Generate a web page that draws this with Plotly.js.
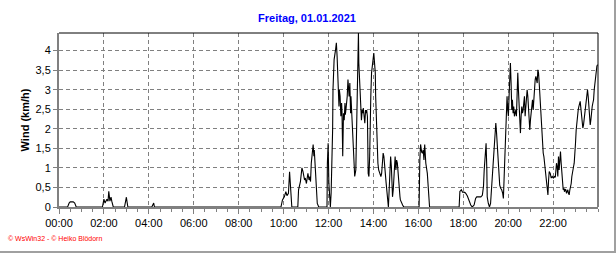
<!DOCTYPE html>
<html>
<head>
<meta charset="utf-8">
<script src="https://cdn.plot.ly/plotly-3.0.1.min.js"></script>
<style>
  html, body { margin: 0; padding: 0; background: #ffffff; }
  #chart { width: 614px; height: 251px; border-right: 2px solid #a0a0a0; border-bottom: 2px solid #a0a0a0; }
</style>
</head>
<body>
<div id="chart"></div>
<script>
// minutes after midnight
const windTime = [
  0, 23, 27, 30, 38, 42, 46,
  116, 118, 120, 123, 126, 128, 131, 133, 136, 139, 141, 143, 145,
  175, 178, 180, 182, 184,
  248, 251, 253, 255,
  593, 597, 602, 606, 609, 613, 616, 618, 620, 622,
  638, 640, 645, 649, 652, 656, 658, 661, 665, 668, 670, 672, 674, 677, 679, 681, 682, 685, 688, 690, 694,
  716, 717, 719, 721, 722.5, 725, 727, 729, 731, 732, 735, 739, 741, 743, 745, 748, 749, 751, 753, 755, 756, 758,
  760, 762, 764, 765, 767, 770, 772, 773, 775, 777, 779, 780, 782, 784, 786, 789, 790, 793, 795, 797, 798,
  800, 801, 803, 805, 806, 808, 810, 812, 813, 815, 817, 819, 821, 822, 824, 826, 828, 830, 831, 833, 835, 837,
  839, 841, 843, 845, 846, 848, 850, 852, 854, 857, 860, 862, 864, 866, 868, 870, 871, 874, 877, 880,
  884, 886, 888, 889, 891, 893, 895, 896, 898, 900, 902, 904, 905, 907, 909, 911, 912, 915, 918, 921,
  962, 964, 966, 969, 971, 973, 975, 977, 980, 984, 987, 990,
  1069, 1071, 1075, 1078, 1082, 1086, 1091, 1095, 1100, 1104, 1109, 1113, 1116, 1122, 1127, 1131, 1134, 1136,
  1138, 1141, 1143, 1144, 1147, 1150, 1153, 1156, 1159, 1162, 1165, 1167, 1169, 1171,
  1174.8, 1177.4, 1180, 1182.7, 1185.4, 1187.2, 1189, 1191.7, 1193.5, 1195.3, 1197, 1198.8, 1200.6, 1202.4,
  1204.2, 1206, 1207.8, 1209.6, 1211.4, 1213.1, 1214.9, 1216.7, 1218.5, 1220.3, 1222.1, 1223.9, 1225.7, 1227.4,
  1229.2, 1231, 1232.8, 1234.6, 1236.4, 1238.2, 1240, 1241.7, 1243.5, 1245.3, 1247.1, 1248.9, 1250.7, 1252.5,
  1254.3, 1256, 1257.8, 1259.6, 1261.4, 1263.2, 1265, 1266.8, 1268.6, 1270.4, 1272.2, 1274, 1275.7, 1277.5,
  1279.3, 1281.1, 1282.9, 1284.7, 1286.5, 1288.3, 1290, 1291.8, 1293.6, 1295.4, 1297.2, 1299, 1300.8, 1302.6,
  1304.4, 1306.2, 1308, 1309.7, 1312.4, 1315.1, 1317.8, 1320.5, 1323.2, 1326,
  1329.1, 1330.9, 1332.6, 1334.4, 1336.2, 1338, 1339.8, 1341.6, 1343.4, 1345.2, 1347, 1348.7, 1350.5, 1352.3,
  1354.1, 1355.9, 1357.7, 1359.4, 1361.2, 1363, 1364.8, 1366.6, 1368.4, 1370.1, 1371.9, 1374.6, 1376.4, 1378.1,
  1379.9, 1381.7, 1383.5, 1385.3, 1387.1, 1388.8, 1390.6, 1392.4, 1394.2, 1396, 1397.8, 1399.5, 1401.3, 1403.1,
  1404.9, 1406.7, 1408.5, 1410.3, 1412, 1413.8, 1415.6, 1417.4, 1419.2, 1421, 1422.8, 1424.5, 1426.3, 1428.1,
  1429.9, 1431.7, 1433.5, 1435.2, 1437, 1438.8
];
// km/h
const windSpeed = [
  0, 0, 0.1, 0.13, 0.13, 0.1, 0,
  0, 0.1, 0.2, 0.1, 0.15, 0.2, 0.15, 0.4, 0.15, 0.25, 0.15, 0.1, 0,
  0, 0.12, 0.25, 0.12, 0,
  0, 0.1, 0.1, 0,
  0, 0.18, 0.26, 0.39, 0.29, 0.35, 0.9, 0.6, 0.2, 0,
  0, 0.44, 0.65, 1.0, 0.9, 0.69, 0.74, 0.6, 0.86, 0.69, 0.78, 0.65, 1.12, 1.46, 1.6, 1.3, 1.46, 0.95, 0.35, 0.09, 0,
  0, 1.12, 1.63, 0.61, 0.26, 0, 0.35, 0.95, 1.97, 3.0, 3.77, 4.03, 4.2, 3.85, 3.26, 2.57, 3.0, 2.83, 2.32, 2.66, 2.45, 1.3,
  2.4, 2.22, 2.66, 2.36, 2.53, 2.83, 3.26, 3.0, 2.83, 3.17, 2.4, 2.83, 2.4, 2.05, 1.3, 1.03, 0.78, 0.95, 1.97, 3.0, 4.03,
  4.45, 3.68, 3.26, 2.83, 2.57, 2.22, 2.48, 2.4, 2.53, 2.31, 2.14, 2.48, 2.4, 2.48, 2.31, 0.86, 0.78, 1.3, 2.66, 2.83, 3.43, 3.68,
  3.85, 3.94, 3.68, 3.43, 2.83, 2.15, 1.55, 1.12, 0.95, 0.86, 0.78, 0.86, 1.12, 1.38, 1.29, 1.12, 0.95, 0.61, 0.26, 0,
  0.86, 1.29, 1.03, 0.61, 0.26, 0.44, 0.86, 1.12, 1.29, 0.95, 1.2, 1.12, 0.95, 0.78, 0.52, 0.26, 0.18, 0.09, 0.05, 0,
  0, 1.2, 1.6, 1.4, 1.38, 1.46, 1.2, 1.6, 1.12, 0.86, 0.4, 0,
  0, 0.4, 0.44, 0.38, 0.38, 0.36, 0.28, 0.15, 0.05, 0, 0.05, 0.22, 0.26, 0.26, 0.26, 0.3, 0.52, 0.95,
  1.29, 1.63, 0.95, 0.26, 0.09, 0, 0.09, 0.52, 0.95, 1.55, 1.97, 2.15, 1.89, 1.55,
  0.78, 0.56, 0.48, 0.44, 0.35, 0.22, 0.69, 1.29, 1.97, 2.4, 2.83, 2.48, 2.32, 2.83,
  3.26, 3.68, 3.17, 2.48, 2.74, 2.4, 2.57, 2.32, 2.4, 2.48, 2.32, 2.91, 3.43, 3.0,
  2.48, 2.14, 1.89, 2.32, 2.57, 2.4, 2.48, 2.66, 2.83, 2.32, 2.57, 2.74, 3.0, 2.83,
  2.4, 2.14, 1.97, 2.23, 2.48, 2.66, 2.74, 2.48, 2.83, 3.0, 3.26, 3.34, 3.26, 3.17,
  3.51, 3.43, 3.17, 2.83, 2.66, 2.32, 1.97, 1.72, 1.38, 1.29, 1.12, 0.86, 0.69, 0.56,
  0.44, 0.31, 0.69, 0.91, 0.86, 0.74, 0.78, 0.74, 0.78, 0.76,
  1.12, 1.03, 0.78, 1.29, 0.95, 1.12, 1.42, 1.12, 0.86, 0.52, 0.44, 0.48, 0.39, 0.45,
  0.44, 0.35, 0.39, 0.44, 0.35, 0.31, 0.44, 0.52, 0.6, 0.78, 0.95, 1.03, 1.12, 1.29,
  1.63, 1.97, 2.23, 2.4, 2.48, 2.57, 2.62, 2.7, 2.53, 2.32, 2.06, 2.02, 2.1, 2.27,
  2.36, 2.48, 2.62, 2.83, 3.0, 2.83, 2.57, 2.32, 2.1, 2.23, 2.48, 2.57, 2.66, 2.74,
  3.0, 3.17, 3.34, 3.51, 3.6, 3.64
];
const xTickVals = [0, 120, 240, 360, 480, 600, 720, 840, 960, 1080, 1200, 1320];
const xTickText = ["00:00", "02:00", "04:00", "06:00", "08:00", "10:00", "12:00", "14:00", "16:00", "18:00", "20:00", "22:00"];
const yTickVals = [0, 0.5, 1, 1.5, 2, 2.5, 3, 3.5, 4];
const yTickText = ["0", "0,5", "1", "1,5", "2", "2,5", "3", "3,5", "4"];
const chartTitle = "Freitag, 01.01.2021";
const yTitle = "Wind (km/h)";
const footer = "© WsWin32 - © Heiko Blödorn";

const font = "Arial, 'Liberation Sans', sans-serif";

const trace = {
  x: windTime, y: windSpeed, type: 'scatter', mode: 'lines',
  line: { color: '#000000', width: 1.1 }, hoverinfo: 'skip'
};

const layout = {
  width: 614, height: 251,
  margin: { l: 59, r: 16, t: 33, b: 44 },
  paper_bgcolor: '#ffffff', plot_bgcolor: '#ffffff',
  showlegend: false,
  font: { family: font, size: 11, color: '#000000' },
  title: {
    text: chartTitle, xref: 'container', x: 0.5, xanchor: 'center',
    yref: 'container', y: 1 - 18 / 251, yanchor: 'middle',
    font: { family: font, size: 11, color: '#0000ff', weight: 'bold' }
  },
  xaxis: {
    range: [0, 1440], fixedrange: true,
    tickmode: 'array', tickvals: xTickVals, ticktext: xTickText,
    ticks: 'outside', ticklen: 5, tickcolor: '#808080', tickwidth: 1,
    tickfont: { family: font, size: 11, color: '#000000' },
    showline: true, linecolor: '#808080', linewidth: 2,
    showgrid: true, gridcolor: '#808080', gridwidth: 1, griddash: '4px,3px',
    zeroline: false,
    minor: { tickmode: 'linear', tick0: 0, dtick: 30, ticks: 'outside', ticklen: 3, tickcolor: '#808080', tickwidth: 1, showgrid: false }
  },
  yaxis: {
    range: [0, 4.45], fixedrange: true,
    tickmode: 'array', tickvals: yTickVals, ticktext: yTickText,
    ticks: 'outside', ticklen: 4, tickcolor: '#808080', tickwidth: 1,
    tickfont: { family: font, size: 11, color: '#000000' },
    showline: true, linecolor: '#808080', linewidth: 2,
    showgrid: true, gridcolor: '#808080', gridwidth: 1, griddash: '4px,3px',
    zeroline: false,
    title: { text: yTitle, standoff: 4, font: { family: font, size: 11, color: '#000000', weight: 'bold' } }
  },
  shapes: [
    { type: 'line', xref: 'paper', yref: 'paper', x0: 0, x1: 1, y0: 1, y1: 1, line: { color: '#000000', width: 1 } },
    { type: 'line', xref: 'paper', yref: 'paper', x0: 1, x1: 1, y0: 0, y1: 1, line: { color: '#000000', width: 1 } }
  ],
  annotations: [
    { text: footer, xref: 'paper', yref: 'paper', x: (6 - 59) / 539, y: (207 - 238) / 174,
      xanchor: 'left', yanchor: 'middle', showarrow: false,
      font: { family: font, size: 7, color: '#ff0000' } }
  ]
};

Plotly.newPlot('chart', [trace], layout, { staticPlot: true, displayModeBar: false });
</script>
</body>
</html>
